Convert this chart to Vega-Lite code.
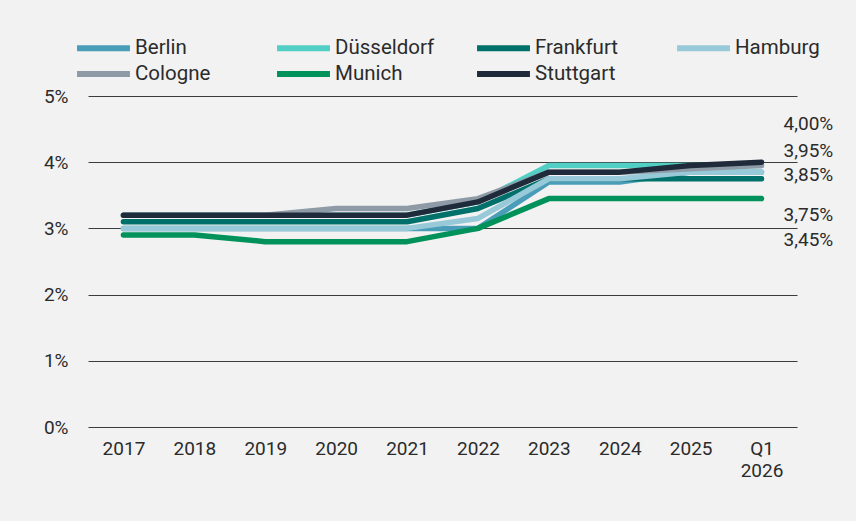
{
  "$schema": "https://vega.github.io/schema/vega-lite/v6.json",
  "autosize": {"type": "none"},
  "padding": {"left": 88, "top": 96, "right": 59, "bottom": 94},
  "width": 709,
  "height": 331,
  "background": "#f2f2f2",
  "config": {
    "view": {"stroke": null},
    "font": "Roboto",
    "text": {"font": "Roboto", "fontSize": 19, "color": "#2b2b2b"},
    "axis": {"labelFont": "Roboto", "labelFontSize": 19, "labelColor": "#2b2b2b"},
    "legend": {"labelFont": "Roboto", "labelFontSize": 20.5, "labelColor": "#2b2b2b"}
  },
  "layer": [
    {
      "data": {
        "values": [
          {"city": "Berlin", "period": "2017", "rate": 3.0},
          {"city": "Berlin", "period": "2018", "rate": 3.0},
          {"city": "Berlin", "period": "2019", "rate": 3.0},
          {"city": "Berlin", "period": "2020", "rate": 3.0},
          {"city": "Berlin", "period": "2021", "rate": 3.0},
          {"city": "Berlin", "period": "2022", "rate": 3.0},
          {"city": "Berlin", "period": "2023", "rate": 3.7},
          {"city": "Berlin", "period": "2024", "rate": 3.7},
          {"city": "Berlin", "period": "2025", "rate": 3.85},
          {"city": "Berlin", "period": "Q1 2026", "rate": 3.85},
          {"city": "Düsseldorf", "period": "2017", "rate": 3.2},
          {"city": "Düsseldorf", "period": "2018", "rate": 3.2},
          {"city": "Düsseldorf", "period": "2019", "rate": 3.2},
          {"city": "Düsseldorf", "period": "2020", "rate": 3.2},
          {"city": "Düsseldorf", "period": "2021", "rate": 3.2},
          {"city": "Düsseldorf", "period": "2022", "rate": 3.4},
          {"city": "Düsseldorf", "period": "2023", "rate": 3.95},
          {"city": "Düsseldorf", "period": "2024", "rate": 3.95},
          {"city": "Düsseldorf", "period": "2025", "rate": 3.95},
          {"city": "Düsseldorf", "period": "Q1 2026", "rate": 3.95},
          {"city": "Frankfurt", "period": "2017", "rate": 3.1},
          {"city": "Frankfurt", "period": "2018", "rate": 3.1},
          {"city": "Frankfurt", "period": "2019", "rate": 3.1},
          {"city": "Frankfurt", "period": "2020", "rate": 3.1},
          {"city": "Frankfurt", "period": "2021", "rate": 3.1},
          {"city": "Frankfurt", "period": "2022", "rate": 3.3},
          {"city": "Frankfurt", "period": "2023", "rate": 3.75},
          {"city": "Frankfurt", "period": "2024", "rate": 3.75},
          {"city": "Frankfurt", "period": "2025", "rate": 3.75},
          {"city": "Frankfurt", "period": "Q1 2026", "rate": 3.75},
          {"city": "Hamburg", "period": "2017", "rate": 3.0},
          {"city": "Hamburg", "period": "2018", "rate": 3.0},
          {"city": "Hamburg", "period": "2019", "rate": 3.0},
          {"city": "Hamburg", "period": "2020", "rate": 3.0},
          {"city": "Hamburg", "period": "2021", "rate": 3.0},
          {"city": "Hamburg", "period": "2022", "rate": 3.15},
          {"city": "Hamburg", "period": "2023", "rate": 3.75},
          {"city": "Hamburg", "period": "2024", "rate": 3.75},
          {"city": "Hamburg", "period": "2025", "rate": 3.85},
          {"city": "Hamburg", "period": "Q1 2026", "rate": 3.85},
          {"city": "Cologne", "period": "2017", "rate": 3.2},
          {"city": "Cologne", "period": "2018", "rate": 3.2},
          {"city": "Cologne", "period": "2019", "rate": 3.2},
          {"city": "Cologne", "period": "2020", "rate": 3.3},
          {"city": "Cologne", "period": "2021", "rate": 3.3},
          {"city": "Cologne", "period": "2022", "rate": 3.45},
          {"city": "Cologne", "period": "2023", "rate": 3.85},
          {"city": "Cologne", "period": "2024", "rate": 3.85},
          {"city": "Cologne", "period": "2025", "rate": 3.9},
          {"city": "Cologne", "period": "Q1 2026", "rate": 3.95},
          {"city": "Munich", "period": "2017", "rate": 2.9},
          {"city": "Munich", "period": "2018", "rate": 2.9},
          {"city": "Munich", "period": "2019", "rate": 2.8},
          {"city": "Munich", "period": "2020", "rate": 2.8},
          {"city": "Munich", "period": "2021", "rate": 2.8},
          {"city": "Munich", "period": "2022", "rate": 3.0},
          {"city": "Munich", "period": "2023", "rate": 3.45},
          {"city": "Munich", "period": "2024", "rate": 3.45},
          {"city": "Munich", "period": "2025", "rate": 3.45},
          {"city": "Munich", "period": "Q1 2026", "rate": 3.45},
          {"city": "Stuttgart", "period": "2017", "rate": 3.2},
          {"city": "Stuttgart", "period": "2018", "rate": 3.2},
          {"city": "Stuttgart", "period": "2019", "rate": 3.2},
          {"city": "Stuttgart", "period": "2020", "rate": 3.2},
          {"city": "Stuttgart", "period": "2021", "rate": 3.2},
          {"city": "Stuttgart", "period": "2022", "rate": 3.4},
          {"city": "Stuttgart", "period": "2023", "rate": 3.85},
          {"city": "Stuttgart", "period": "2024", "rate": 3.85},
          {"city": "Stuttgart", "period": "2025", "rate": 3.95},
          {"city": "Stuttgart", "period": "Q1 2026", "rate": 4.0}
        ]
      },
      "mark": {"type": "line", "strokeWidth": 5.5, "strokeCap": "round", "strokeJoin": "round"},
      "encoding": {
        "x": {
          "field": "period", "type": "ordinal",
          "sort": ["2017","2018","2019","2020","2021","2022","2023","2024","2025","Q1 2026"],
          "scale": {"type": "point", "padding": 0.5},
          "axis": {
            "title": null, "domain": false, "ticks": false, "grid": false,
            "labelAngle": 0, "labelPadding": 12, "labelLineHeight": 22,
            "labelExpr": "datum.value == 'Q1 2026' ? ['Q1', '2026'] : datum.value"
          }
        },
        "y": {
          "field": "rate", "type": "quantitative",
          "scale": {"domain": [0, 5], "nice": false},
          "axis": {
            "title": null, "domain": false, "ticks": false, "grid": true,
            "gridColor": "#3c3c3c", "gridWidth": 1, "values": [0, 1, 2, 3, 4, 5],
            "labelPadding": 20, "labelExpr": "datum.value + '%'"
          }
        },
        "color": {
          "field": "city", "type": "nominal",
          "scale": {
            "domain": ["Berlin", "Düsseldorf", "Frankfurt", "Hamburg", "Cologne", "Munich", "Stuttgart"],
            "range": ["#4a9db8", "#52cfc5", "#00706b", "#98c9d8", "#8e9ba6", "#00925a", "#1f2b3a"]
          },
          "legend": {
            "title": null, "orient": "none", "legendX": -14, "legendY": -58,
            "direction": "horizontal", "columns": 4, "gridAlign": "all",
            "symbolType": "stroke", "symbolSize": 2800, "symbolStrokeWidth": 6,
            "clipHeight": 20,
            "labelOffset": 2, "columnPadding": 39, "rowPadding": 5
          }
        }
      }
    },
    {"data": {"values": [{"label": "4,00%"}]}, "mark": {"type": "text", "align": "left", "baseline": "middle", "dx": 22, "dy": -38}, "encoding": {"x": {"datum": "Q1 2026"}, "y": {"datum": 4.0}, "text": {"field": "label"}}},
    {"data": {"values": [{"label": "3,95%"}]}, "mark": {"type": "text", "align": "left", "baseline": "middle", "dx": 22, "dy": -15}, "encoding": {"x": {"datum": "Q1 2026"}, "y": {"datum": 3.95}, "text": {"field": "label"}}},
    {"data": {"values": [{"label": "3,85%"}]}, "mark": {"type": "text", "align": "left", "baseline": "middle", "dx": 22, "dy": 3}, "encoding": {"x": {"datum": "Q1 2026"}, "y": {"datum": 3.85}, "text": {"field": "label"}}},
    {"data": {"values": [{"label": "3,75%"}]}, "mark": {"type": "text", "align": "left", "baseline": "middle", "dx": 22, "dy": 36}, "encoding": {"x": {"datum": "Q1 2026"}, "y": {"datum": 3.75}, "text": {"field": "label"}}},
    {"data": {"values": [{"label": "3,45%"}]}, "mark": {"type": "text", "align": "left", "baseline": "middle", "dx": 22, "dy": 41}, "encoding": {"x": {"datum": "Q1 2026"}, "y": {"datum": 3.45}, "text": {"field": "label"}}}
  ]
}
